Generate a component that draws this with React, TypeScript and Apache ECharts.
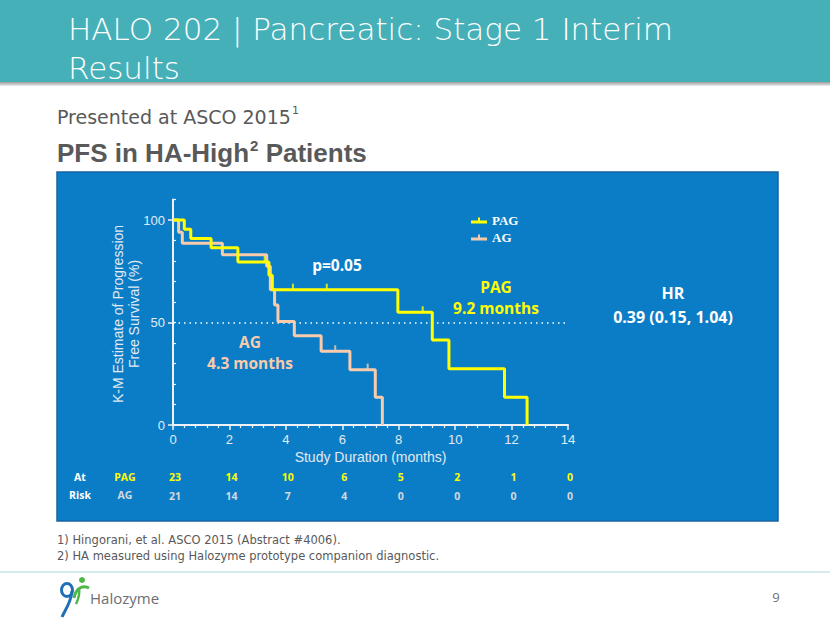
import React, { useEffect, useRef } from "react";
import * as echarts from "echarts";

// ---- data ----
const months = [0, 2, 4, 6, 8, 10, 12, 14];
const pagAtRisk = [23, 14, 10, 6, 5, 2, 1, 0];
const agAtRisk = [21, 14, 7, 4, 0, 0, 0, 0];

const pagTimes = [0, 0.4, 0.63, 1.35, 2.3, 3.4, 3.52, 7.97, 9.19, 9.78, 11.75, 12.55];
const pagSurv = [100, 95.5, 91, 86.5, 79.5, 73, 66, 55, 41.5, 27.5, 13.5, 0];
const pagCensorTimes = [3.25, 4.25, 5.45, 8.85];
const pagCensorSurv = [79.5, 66, 66, 55];

const agTimes = [0, 0.2, 0.33, 1.75, 3.32, 3.45, 3.6, 3.72, 4.3, 5.25, 6.27, 7.17, 7.42];
const agSurv = [100, 94, 88.6, 83, 77.5, 66, 58.5, 50.5, 43.5, 36, 27, 13.5, 0];
const agCensorTimes = [5.75, 6.9];
const agCensorSurv = [36, 27];

const yLabelValues = [0, 50, 100];
const medianLine = 50;

const PAG_COLOR = "#FFFF00";
const AG_COLOR = "#F8CBAD";
const AXIS_COLOR = "#EEF2F7";
const AXIS_TEXT = "#E2EAF3";
const GRAY = "#595959";

function measure(text: string, font: string): number {
  const c = document.createElement("canvas");
  const ctx = c.getContext("2d");
  if (!ctx) return text.length * 8;
  ctx.font = font;
  return ctx.measureText(text).width;
}

export default function App() {
  const ref = useRef<HTMLDivElement>(null);

  useEffect(() => {
    document.body.style.margin = "0";
    if (!ref.current) return;
    const chart = echarts.init(ref.current, undefined, { renderer: "svg" });

    const titleFont = '200 31px "DejaVu Sans"';
    const fontPresented = '19px "DejaVu Sans"';
    const presentedW = measure("Presented at ASCO 2015", fontPresented);
    const fontPFS = 'bold 26px "Liberation Sans"';
    const pfsA = "PFS in HA-High";
    const pfsAW = measure(pfsA, fontPFS);
    const pfsB = " Patients";
    const supFont = 'bold 15px "Liberation Sans"';
    const supW = measure("2", supFont);

    const bold15 = 'bold 15.5px "Open Sans"';
    const bold16 = 'bold 16px "Open Sans"';
    const riskFont = 'bold 10.5px "Open Sans"';
    const footFont = '11.5px "DejaVu Sans"';

    const option: any = {
      animation: false,
      backgroundColor: "#FFFFFF",
      grid: { left: 173, right: 262, top: 199.5, bottom: 198, containLabel: false },
      legend: {
        data: ["PAG", "AG"],
        orient: "vertical",
        left: 466,
        top: 209,
        itemWidth: 16,
        itemHeight: 7,
        itemGap: 4,
        icon: "path://M0,4 L16,4 L16,7 L0,7 Z M7,1 L9,1 L9,4 L7,4 Z",
        textStyle: { color: "#FFFFFF", fontFamily: "Liberation Serif", fontWeight: "bold", fontSize: 13 },
        selectedMode: false,
      },
      xAxis: [
        {
          type: "value",
          min: 0,
          max: 14,
          interval: 2,
          axisLine: { show: true, lineStyle: { color: AXIS_COLOR, width: 2 } },
          axisTick: { show: true, length: 5, lineStyle: { color: AXIS_COLOR, width: 1.5 } },
          minorTick: { show: true, splitNumber: 5, length: 3, lineStyle: { color: AXIS_COLOR, width: 1.2 } },
          axisLabel: { color: AXIS_TEXT, fontSize: 13, fontFamily: "Liberation Sans", margin: 8 },
          splitLine: { show: false },
          name: "Study Duration (months)",
          nameLocation: "middle",
          nameGap: 25,
          nameTextStyle: { color: AXIS_TEXT, fontSize: 14, fontFamily: "Liberation Sans" },
        },
        {
          type: "value",
          position: "bottom",
          offset: 38,
          min: 0,
          max: 14,
          interval: 2,
          axisLine: { show: false },
          axisTick: { show: false },
          splitLine: { show: false },
          axisLabel: {
            margin: 8,
            padding: [0, 0, 0, 4],
            color: PAG_COLOR,
            fontSize: 10.5,
            fontWeight: "bold",
            fontFamily: "Open Sans",
            formatter: (v: number) => {
              const i = months.indexOf(v);
              return i >= 0 ? String(pagAtRisk[i]) : "";
            },
          },
        },
        {
          type: "value",
          position: "bottom",
          offset: 57,
          min: 0,
          max: 14,
          interval: 2,
          axisLine: { show: false },
          axisTick: { show: false },
          splitLine: { show: false },
          axisLabel: {
            margin: 8,
            padding: [0, 0, 0, 4],
            color: "#D3D8DE",
            fontSize: 10.5,
            fontWeight: "bold",
            fontFamily: "Open Sans",
            formatter: (v: number) => {
              const i = months.indexOf(v);
              return i >= 0 ? String(agAtRisk[i]) : "";
            },
          },
        },
      ],
      yAxis: [
        {
          type: "value",
          min: 0,
          max: 110,
          interval: 10,
          position: "left",
          axisLine: { show: true, lineStyle: { color: AXIS_COLOR, width: 2 } },
          axisTick: { show: true, length: 5, customValues: yLabelValues, lineStyle: { color: AXIS_COLOR, width: 1.5 } },
          axisLabel: { customValues: yLabelValues, color: AXIS_TEXT, fontSize: 13, fontFamily: "Liberation Sans", margin: 8 },
          splitLine: { show: false },
        },
        {
          type: "value",
          min: 0,
          max: 110,
          interval: 10,
          position: "left",
          axisLine: { show: false },
          axisTick: { show: true, inside: true, length: 3, lineStyle: { color: AXIS_COLOR, width: 1.2 } },
          axisLabel: { show: false },
          splitLine: { show: false },
        },
      ],
      series: [
        {
          name: "AG",
          type: "line",
          step: "end",
          symbol: "none",
          data: agTimes.map((t, i) => [t, agSurv[i]]),
          lineStyle: { color: AG_COLOR, width: 3 },
          itemStyle: { color: AG_COLOR },
          z: 3,
          markLine: {
            silent: true,
            symbol: ["none", "none"],
            label: { show: false },
            lineStyle: { color: "#FFFFFF", type: [1.5, 4], width: 1.5 },
            data: [{ yAxis: medianLine }],
            z: 1,
          },
        },
        {
          name: "PAG",
          type: "line",
          step: "end",
          symbol: "none",
          data: pagTimes.map((t, i) => [t, pagSurv[i]]),
          lineStyle: { color: PAG_COLOR, width: 3 },
          itemStyle: { color: PAG_COLOR },
          z: 4,
        },
        {
          name: "AG",
          type: "scatter",
          symbol: "rect",
          symbolSize: [2, 6],
          symbolOffset: [0, -3],
          data: agCensorTimes.map((t, i) => [t, agCensorSurv[i]]),
          itemStyle: { color: AG_COLOR },
          z: 5,
        },
        {
          name: "PAG",
          type: "scatter",
          symbol: "rect",
          symbolSize: [2, 6],
          symbolOffset: [0, -3],
          data: pagCensorTimes.map((t, i) => [t, pagCensorSurv[i]]),
          itemStyle: { color: PAG_COLOR },
          z: 5,
        },
      ],
      graphic: [
        // header bar
        { type: "rect", shape: { x: 0, y: 0, width: 830, height: 82 }, style: { fill: "#46B0B9" }, z: 0 },
        {
          type: "rect",
          shape: { x: 0, y: 82, width: 830, height: 4 },
          style: {
            fill: new echarts.graphic.LinearGradient(0, 0, 0, 1, [
              { offset: 0, color: "#9C9C9C" },
              { offset: 1, color: "#EDEDED" },
            ]),
          },
          z: 0,
        },
        {
          type: "text",
          x: 68,
          y: 29,
          style: { text: "HALO 202 | Pancreatic: Stage 1 Interim", fill: "#FFFFFF", font: titleFont, verticalAlign: "middle" },
          z: 1,
        },
        {
          type: "text",
          x: 68,
          y: 68,
          style: { text: "Results", fill: "#FFFFFF", font: titleFont, verticalAlign: "middle" },
          z: 1,
        },
        // subtitles
        {
          type: "text",
          x: 57,
          y: 117,
          style: { text: "Presented at ASCO 2015", fill: GRAY, font: fontPresented, verticalAlign: "middle" },
        },
        {
          type: "text",
          x: 57 + presentedW + 1,
          y: 110,
          style: { text: "1", fill: GRAY, font: '11px "DejaVu Sans"', verticalAlign: "middle" },
        },
        {
          type: "text",
          x: 57,
          y: 153,
          style: { text: pfsA, fill: GRAY, font: fontPFS, verticalAlign: "middle" },
        },
        {
          type: "text",
          x: 57 + pfsAW + 1,
          y: 145,
          style: { text: "2", fill: GRAY, font: supFont, verticalAlign: "middle" },
        },
        {
          type: "text",
          x: 57 + pfsAW + 1 + supW,
          y: 153,
          style: { text: pfsB, fill: GRAY, font: fontPFS, verticalAlign: "middle" },
        },
        // blue panel
        {
          type: "rect",
          shape: { x: 57, y: 172, width: 721, height: 349 },
          style: { fill: "#0B7DC6", stroke: "#1763A0", lineWidth: 1.5 },
          z: -1,
        },
        // y axis title
        {
          type: "text",
          x: 126,
          y: 314,
          rotation: Math.PI / 2,
          style: {
            text: "K-M Estimate of Progression\nFree Survival (%)",
            fill: AXIS_TEXT,
            font: '14px "Liberation Sans"',
            align: "center",
            verticalAlign: "middle",
            lineHeight: 16,
          },
          z: 1,
        },
        // annotations
        {
          type: "text",
          x: 337,
          y: 265,
          style: { text: "p=0.05", fill: "#FFFFFF", font: bold15, align: "center", verticalAlign: "middle" },
          z: 6,
        },
        {
          type: "text",
          x: 250,
          y: 342,
          style: { text: "AG", fill: AG_COLOR, font: bold15, align: "center", verticalAlign: "middle" },
          z: 6,
        },
        {
          type: "text",
          x: 250,
          y: 363,
          style: { text: "4.3 months", fill: AG_COLOR, font: bold15, align: "center", verticalAlign: "middle" },
          z: 6,
        },
        {
          type: "text",
          x: 496,
          y: 287,
          style: { text: "PAG", fill: PAG_COLOR, font: bold15, align: "center", verticalAlign: "middle" },
          z: 6,
        },
        {
          type: "text",
          x: 496,
          y: 308,
          style: { text: "9.2 months", fill: PAG_COLOR, font: bold15, align: "center", verticalAlign: "middle" },
          z: 6,
        },
        {
          type: "text",
          x: 673,
          y: 293,
          style: { text: "HR", fill: "#FFFFFF", font: bold16, align: "center", verticalAlign: "middle" },
          z: 6,
        },
        {
          type: "text",
          x: 673,
          y: 317,
          style: { text: "0.39 (0.15, 1.04)", fill: "#FFFFFF", font: bold16, align: "center", verticalAlign: "middle" },
          z: 6,
        },
        // at risk labels
        {
          type: "text",
          x: 80,
          y: 477,
          style: { text: "At", fill: "#FFFFFF", font: riskFont, align: "center", verticalAlign: "middle" },
          z: 6,
        },
        {
          type: "text",
          x: 80,
          y: 495,
          style: { text: "Risk", fill: "#FFFFFF", font: riskFont, align: "center", verticalAlign: "middle" },
          z: 6,
        },
        {
          type: "text",
          x: 125,
          y: 477,
          style: { text: "PAG", fill: PAG_COLOR, font: riskFont, align: "center", verticalAlign: "middle" },
          z: 6,
        },
        {
          type: "text",
          x: 125,
          y: 495,
          style: { text: "AG", fill: "#D3D8DE", font: riskFont, align: "center", verticalAlign: "middle" },
          z: 6,
        },
        // footnotes
        {
          type: "text",
          x: 57,
          y: 540,
          style: { text: "1) Hingorani, et al. ASCO 2015 (Abstract #4006).", fill: GRAY, font: footFont, verticalAlign: "middle" },
        },
        {
          type: "text",
          x: 57,
          y: 556,
          style: { text: "2) HA measured using Halozyme prototype companion diagnostic.", fill: GRAY, font: footFont, verticalAlign: "middle" },
        },
        {
          type: "line",
          shape: { x1: 0, y1: 572, x2: 830, y2: 572 },
          style: { stroke: "#A9D9DE", lineWidth: 1 },
        },
        // logo
        {
          type: "ellipse",
          shape: { cx: 67, cy: 590, rx: 5.5, ry: 6.5 },
          style: { fill: "none", stroke: "#1F6FB8", lineWidth: 3 },
        },
        {
          type: "bezierCurve",
          shape: { x1: 72, y1: 591, x2: 62, y2: 617, cpx1: 71, cpy1: 603, cpx2: 65, cpy2: 610 },
          style: { fill: "none", stroke: "#1F6FB8", lineWidth: 3 },
        },
        {
          type: "circle",
          shape: { cx: 82, cy: 580, r: 3 },
          style: { fill: "#4DB848" },
        },
        {
          type: "bezierCurve",
          shape: { x1: 74, y1: 598, x2: 89, y2: 588, cpx1: 76, cpy1: 587, cpx2: 84, cpy2: 585 },
          style: { fill: "none", stroke: "#4DB848", lineWidth: 3 },
        },
        {
          type: "bezierCurve",
          shape: { x1: 79, y1: 588, x2: 76, y2: 604, cpx1: 80, cpy1: 595, cpx2: 78, cpy2: 600 },
          style: { fill: "none", stroke: "#4DB848", lineWidth: 2.5 },
        },
        {
          type: "text",
          x: 90,
          y: 598,
          style: { text: "Halozyme", fill: "#6D6E71", font: '15px "Open Sans"', verticalAlign: "middle" },
        },
        {
          type: "text",
          x: 776,
          y: 597,
          style: { text: "9", fill: "#6D6E71", font: '13px "Open Sans"', verticalAlign: "middle", align: "center" },
        },
      ],
    };

    chart.setOption(option);
    return () => {
      chart.dispose();
    };
  }, []);

  return <div ref={ref} style={{ width: 830, height: 623 }} />;
}
